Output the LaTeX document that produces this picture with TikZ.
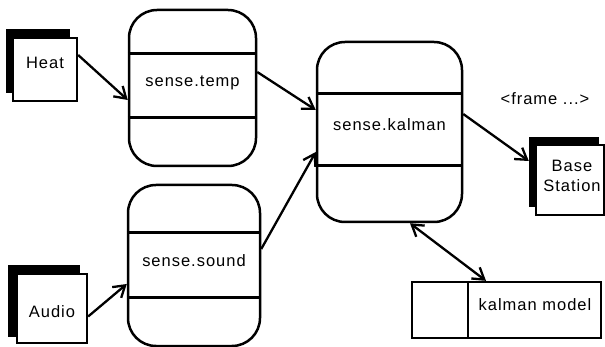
\documentclass[tikz,border=0pt]{standalone}
\usepackage{fontspec}
\setmainfont{Liberation Sans}[LetterSpace=6]
\usetikzlibrary{arrows.meta,calc}
\begin{document}
\begin{tikzpicture}[x=1pt,y=-1pt,
  proc/.style={draw, line width=2.5pt, rounded corners=28pt, inner sep=0pt},
  divider/.style={line width=2.5pt},
  ext/.style={draw, line width=2.3pt, fill=white, inner sep=0pt},
  shadowbox/.style={fill=black, inner sep=0pt},
  lbl/.style={font=\fontsize{16.5}{19}\selectfont, anchor=base, inner sep=0pt},
  tip/.tip={Straight Barb[length=11pt,width=14pt]},
  conn/.style={line width=2.3pt, -tip},
]
\useasboundingbox (0,0) rectangle (605,347);

% external entities
\node[shadowbox, minimum width=64pt, minimum height=64pt] (heatS) at (38,61) {};
\node[ext, minimum width=64pt, minimum height=63pt] (heat) at (45,69.5) {};
\node[shadowbox, minimum width=72pt, minimum height=72pt] (audioS) at (44,301) {};
\node[ext, minimum width=70pt, minimum height=69pt] (audio) at (52,308.5) {};
\node[shadowbox, minimum width=70pt, minimum height=70pt] (baseS) at (564,172) {};
\node[ext, minimum width=68pt, minimum height=70pt] (base) at (570,180) {};

% processes
\node[proc, minimum width=127pt, minimum height=156pt] (temp) at (192.5,88) {};
\node[proc, minimum width=132pt, minimum height=161pt] (sound) at (194,265.5) {};
\node[proc, minimum width=145pt, minimum height=180pt] (kalman) at (389.5,132) {};

\draw[divider] ($(temp.north west)+(0,45)$) -- ($(temp.north east)+(0,45)$);
\draw[divider] ($(temp.north west)+(0,109)$) -- ($(temp.north east)+(0,109)$);
\draw[divider] ($(sound.north west)+(0,49)$) -- ($(sound.north east)+(0,49)$);
\draw[divider] ($(sound.north west)+(0,114)$) -- ($(sound.north east)+(0,114)$);
\draw[divider] ($(kalman.north west)+(0,53)$) -- ($(kalman.north east)+(0,53)$);
\draw[divider] ($(kalman.north west)+(0,125)$) -- ($(kalman.north east)+(0,125)$);

% data store
\node[draw, line width=2.3pt, inner sep=0pt, minimum width=189pt, minimum height=56pt] (model) at (506.5,310) {};
\draw[line width=1.8pt] ($(model.north west)+(57,0)$) -- ($(model.south west)+(57,0)$);

% labels
\node[lbl] (heatL) at (45,69) {Heat};
\node[lbl] (audioL) at (52,318) {Audio};
\node[lbl] (baseL1) at (572,172) {Base};
\node[lbl] (baseL2) at (572,192) {Station};
\node[lbl] (tempL) at (192.5,87) {sense.temp};
\node[lbl] (soundL) at (194,267) {sense.sound};
\node[lbl] (kalmanL) at (389.5,131) {sense.kalman};
\node[lbl] (modelL) at (535,311) {kalman model};
\node[lbl] (frameL) at (545,105) {<frame ...>};

% connectors
\draw[conn] ($(heat.east)+(0,-14.5)$) -- ($(temp.west)+(0,12)$);
\draw[conn] ($(temp.east)+(0,-16)$) -- ($(kalman.west)+(0,-22)$);
\draw[conn] ($(sound.east)+(0,-16.5)$) -- ($(kalman.west)+(0,20)$);
\draw[conn] ($(audio.east)+(0,8)$) -- ($(sound.west)+(0,18.5)$);
\draw[conn] ($(kalman.east)+(0,-18)$) -- ($(baseS.west)+(0,-11)$);
\draw[conn, tip-tip] ($(kalman.south)+(20.5,0)$) -- ($(model.north)+(-20.5,0)$);
\end{tikzpicture}
\end{document}
